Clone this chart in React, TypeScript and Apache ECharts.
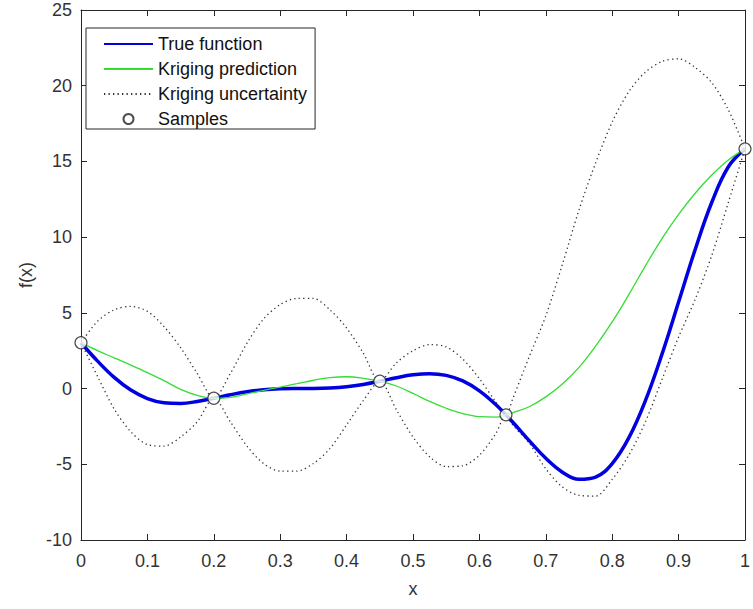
import React, { useEffect, useRef } from "react";
import * as echarts from "echarts";

// x positions for the true function curve
const xTrue = [
  0, 0.025, 0.05, 0.075, 0.1, 0.125, 0.15, 0.175, 0.2, 0.225, 0.25, 0.275, 0.3, 0.325,
  0.35, 0.375, 0.4, 0.425, 0.45, 0.475, 0.5, 0.525, 0.55, 0.575, 0.6, 0.625, 0.65, 0.675,
  0.7, 0.725, 0.75, 0.775, 0.8, 0.825, 0.85, 0.875, 0.9, 0.925, 0.95, 0.975, 1,
];
const trueFunction = [
  3.027, 1.813, 0.738, -0.1, -0.657, -0.935, -0.978, -0.854, -0.64, -0.407, -0.21, -0.079,
  -0.016, 0.0, 0.002, 0.03, 0.115, 0.27, 0.483, 0.717, 0.909, 0.986, 0.871, 0.503, -0.149,
  -1.074, -2.209, -3.439, -4.606, -5.522, -5.993, -5.845, -4.949, -3.254, -0.799, 2.272,
  5.712, 9.187, 12.303, 14.648, 15.83,
];

// x positions for the kriging curves (includes the sample at 0.64)
const xKriging = [
  0, 0.025, 0.05, 0.075, 0.1, 0.125, 0.15, 0.175, 0.2, 0.225, 0.25, 0.275, 0.3, 0.325,
  0.35, 0.375, 0.4, 0.425, 0.45, 0.475, 0.5, 0.525, 0.55, 0.575, 0.6, 0.625, 0.64, 0.65,
  0.675, 0.7, 0.725, 0.75, 0.775, 0.8, 0.825, 0.85, 0.875, 0.9, 0.925, 0.95, 0.975, 1,
];
const krigingPrediction = [
  3.03, 2.5, 2.03, 1.55, 1.05, 0.52, -0.05, -0.45, -0.64, -0.58, -0.35, -0.12, 0.1, 0.32,
  0.55, 0.72, 0.78, 0.68, 0.48, 0.17, -0.32, -0.85, -1.3, -1.65, -1.85, -1.88, -1.74, -1.6,
  -1.2, -0.55, 0.3, 1.4, 2.8, 4.4, 6.2, 8.1, 9.9, 11.5, 12.9, 14.1, 15.1, 15.83,
];
const uncertaintyUpper = [
  3.03, 4.45, 5.2, 5.43, 5.1, 4.1, 2.7, 1.0, -0.64, 1.0, 3.0, 4.6, 5.55, 5.95, 5.95, 5.2,
  4.0, 2.35, 0.48, 1.7, 2.5, 2.9, 2.75, 1.95, 0.65, -0.9, -1.74, -0.7, 2.1, 4.8, 8.2, 11.8,
  14.9, 17.6, 19.6, 20.9, 21.6, 21.78, 21.2, 20.2, 18.4, 15.83,
];
const uncertaintyLower = [
  3.03, 0.8, -1.35, -2.85, -3.7, -3.8, -3.2, -2.2, -0.64, -2.2, -3.8, -4.95, -5.45, -5.45,
  -4.95, -3.95, -2.4, -0.8, 0.48, -1.4, -3.2, -4.5, -5.15, -5.1, -4.4, -2.95, -1.74, -2.4,
  -3.6, -5.3, -6.5, -7.05, -7.1, -6.0, -4.4, -2.2, 0.6, 3.4, 5.9, 8.8, 12.3, 15.83,
];

const sampleX = [0, 0.2, 0.45, 0.64, 1];
const sampleY = [3.027, -0.64, 0.483, -1.737, 15.83];

const xTickLabels = ["0", "0.1", "0.2", "0.3", "0.4", "0.5", "0.6", "0.7", "0.8", "0.9", "1"];
const yTickLabels = ["-10", "-5", "0", "5", "10", "15", "20", "25"];

const legendNames = ["True function", "Kriging prediction", "Kriging uncertainty", "Samples"];

const FONT = "'Liberation Sans', Arial, sans-serif";
const AXIS_COLOR = "#262626";
const TEXT_COLOR = "#333333";

const pairs = (xs: number[], ys: number[]) => xs.map((x, i) => [x, ys[i]]);

export default function App() {
  const ref = useRef<HTMLDivElement>(null);

  useEffect(() => {
    if (!ref.current) return;
    const chart = echarts.init(ref.current, undefined, { renderer: "svg" });

    const xMin = 0;
    const xMax = 1;
    const xInterval = 0.1;
    const yMin = Number(yTickLabels[0]);
    const yMax = Number(yTickLabels[yTickLabels.length - 1]);
    const yInterval = 5;

    const hiddenAxisCommon = {
      axisLine: { show: true, onZero: false, lineStyle: { color: AXIS_COLOR, width: 1 } },
      axisTick: { show: true, inside: true, length: 6, lineStyle: { color: AXIS_COLOR } },
      axisLabel: { show: false },
      splitLine: { show: false },
    };

    const dotted = {
      color: "#333333",
      width: 1.3,
      type: [1.3, 3.2] as number[],
    };

    chart.setOption({
      animation: false,
      backgroundColor: "#ffffff",
      textStyle: { fontFamily: FONT },
      grid: { left: 81, right: 4, top: 10, bottom: 69, containLabel: false },
      xAxis: [
        {
          type: "value",
          min: xMin,
          max: xMax,
          interval: xInterval,
          position: "bottom",
          name: "x",
          nameLocation: "middle",
          nameGap: 40,
          nameTextStyle: { fontSize: 18, color: TEXT_COLOR, fontFamily: FONT },
          axisLine: { show: true, onZero: false, lineStyle: { color: AXIS_COLOR, width: 1 } },
          axisTick: { show: true, inside: true, length: 6, lineStyle: { color: AXIS_COLOR } },
          axisLabel: {
            fontSize: 18,
            color: TEXT_COLOR,
            fontFamily: FONT,
            margin: 12,
            formatter: (v: number) => xTickLabels[Math.round((v - xMin) / xInterval)] ?? "",
          },
          splitLine: { show: false },
        },
        {
          type: "value",
          min: xMin,
          max: xMax,
          interval: xInterval,
          position: "top",
          ...hiddenAxisCommon,
        },
      ],
      yAxis: [
        {
          type: "value",
          min: yMin,
          max: yMax,
          interval: yInterval,
          position: "left",
          name: "f(x)",
          nameLocation: "middle",
          nameGap: 40,
          nameTextStyle: { fontSize: 18, color: TEXT_COLOR, fontFamily: FONT },
          axisLine: { show: true, onZero: false, lineStyle: { color: AXIS_COLOR, width: 1 } },
          axisTick: { show: true, inside: true, length: 6, lineStyle: { color: AXIS_COLOR } },
          axisLabel: {
            fontSize: 18,
            color: TEXT_COLOR,
            fontFamily: FONT,
            margin: 9,
            formatter: (v: number) => yTickLabels[Math.round((v - yMin) / yInterval)] ?? "",
          },
          splitLine: { show: false },
        },
        {
          type: "value",
          min: yMin,
          max: yMax,
          interval: yInterval,
          position: "right",
          ...hiddenAxisCommon,
        },
      ],
      legend: {
        orient: "vertical",
        left: 86,
        top: 28,
        padding: [7, 8, 1, 17],
        itemWidth: 49,
        itemHeight: 10,
        itemGap: 7,
        backgroundColor: "#ffffff",
        borderColor: AXIS_COLOR,
        borderWidth: 1,
        selectedMode: false,
        textStyle: { fontSize: 18, color: "#111111", fontFamily: FONT },
        data: [
          { name: legendNames[0], itemStyle: { opacity: 0 } },
          { name: legendNames[1], itemStyle: { opacity: 0 } },
          { name: legendNames[2], itemStyle: { opacity: 0 } },
          { name: legendNames[3] },
        ],
      },
      series: [
        {
          name: legendNames[2],
          type: "line",
          data: pairs(xKriging, uncertaintyUpper),
          showSymbol: false,
          symbol: "none",
          smooth: 0.3,
          lineStyle: dotted,
          itemStyle: { color: "#333333" },
          z: 2,
        },
        {
          name: legendNames[2],
          type: "line",
          data: pairs(xKriging, uncertaintyLower),
          showSymbol: false,
          symbol: "none",
          smooth: 0.3,
          lineStyle: dotted,
          itemStyle: { color: "#333333" },
          z: 2,
        },
        {
          name: legendNames[0],
          type: "line",
          data: pairs(xTrue, trueFunction),
          showSymbol: false,
          symbol: "none",
          smooth: 0.4,
          lineStyle: { color: "#0000e0", width: 3.5 },
          itemStyle: { color: "#0000e0" },
          z: 3,
        },
        {
          name: legendNames[1],
          type: "line",
          data: pairs(xKriging, krigingPrediction),
          showSymbol: false,
          symbol: "none",
          smooth: 0.4,
          lineStyle: { color: "#33dd33", width: 1.3 },
          itemStyle: { color: "#33dd33" },
          z: 4,
        },
        {
          name: legendNames[3],
          type: "scatter",
          data: pairs(sampleX, sampleY),
          symbol: "circle",
          symbolSize: 12,
          itemStyle: { color: "#ffffff", borderColor: "#222222", borderWidth: 1.2 },
          z: 5,
        },
      ],
    });

    return () => {
      chart.dispose();
    };
  }, []);

  return (
    <div
      ref={ref}
      style={{ position: "fixed", left: 0, top: 0, width: 753, height: 609, background: "#fff" }}
    />
  );
}
